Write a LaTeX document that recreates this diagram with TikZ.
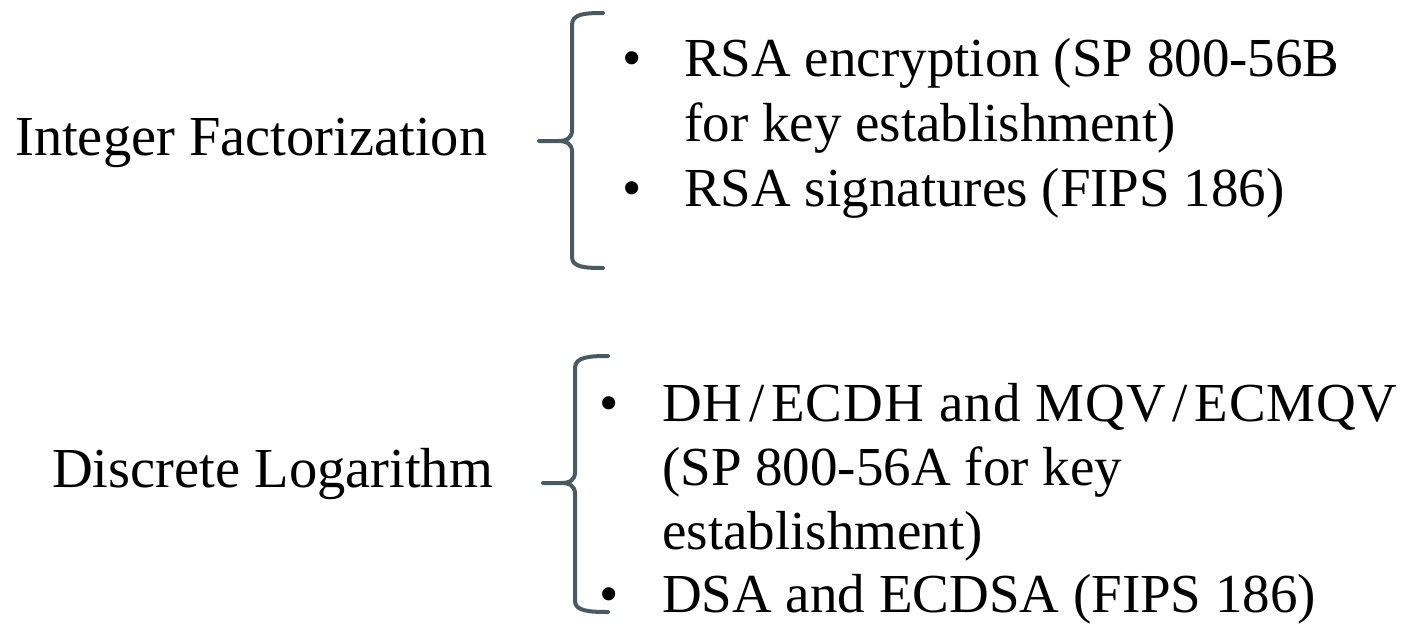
\documentclass[tikz,border=0pt]{standalone}
\usepackage{fontspec}
\setmainfont{Liberation Serif}
\definecolor{bracegray}{HTML}{4B5A61}
\tikzset{
  label/.style={anchor=base west, inner sep=0pt, font=\fontsize{56.5}{68}\selectfont},
  item/.style={anchor=base west, inner sep=0pt, font=\fontsize{55}{65}\selectfont},
  dot/.style={anchor=base, inner sep=0pt, font=\fontsize{55}{65}\selectfont},
  brace/.style={draw=bracegray, line width=4pt, line cap=round, line join=round}
}
\begin{document}
\begin{tikzpicture}[x=1pt,y=-1pt]
\useasboundingbox (0,0) rectangle (1411,624);

% left-hand labels
\node[label] (intf) at (15,155) {Integer Factorization};
\node[label] (dlog) at (52,487) {Discrete Logarithm};

% first brace
\draw[brace] (603,13) .. controls (584,13) and (572,14) .. (572,25)
  -- (572,130) .. controls (572,138) and (567,141) .. (558,141) -- (539,141)
  (558,141) .. controls (567,141) and (572,144) .. (572,152)
  -- (572,257) .. controls (572,267) and (584,268) .. (603,268);

% second brace
\draw[brace] (608,356) .. controls (589,356) and (575,357) .. (575,368)
  -- (575,472) .. controls (575,480) and (570,483) .. (561,483) -- (543,483)
  (561,483) .. controls (570,483) and (575,486) .. (575,494)
  -- (575,601) .. controls (575,611) and (589,612) .. (608,612);

% items of the first group
\node[dot] (b1) at (632,76) {•};
\node[item] (rsa1) at (684,76) {RSA encryption (SP 800-56B};
\node[item] (rsa2) at (684,141) {for key establishment)};
\node[dot] (b2) at (632,206) {•};
\node[item] (rsa3) at (684,206) {RSA signatures (FIPS 186)};

% items of the second group
\node[dot] (b3) at (609,421) {•};
\node[item] (dh1) at (662,421) {\addfontfeature{LetterSpace=2}DH\kern0.12em/\kern0.12em ECDH and MQV\kern0.12em/\kern0.12em ECMQV};
\node[item] (dh2) at (662,485) {(SP 800-56A for key};
\node[item] (dh3) at (662,549) {establishment)};
\node[dot] (b4) at (609,612) {•};
\node[item] (dsa) at (662,612) {DSA and ECDSA (FIPS 186)};
\end{tikzpicture}
\end{document}
